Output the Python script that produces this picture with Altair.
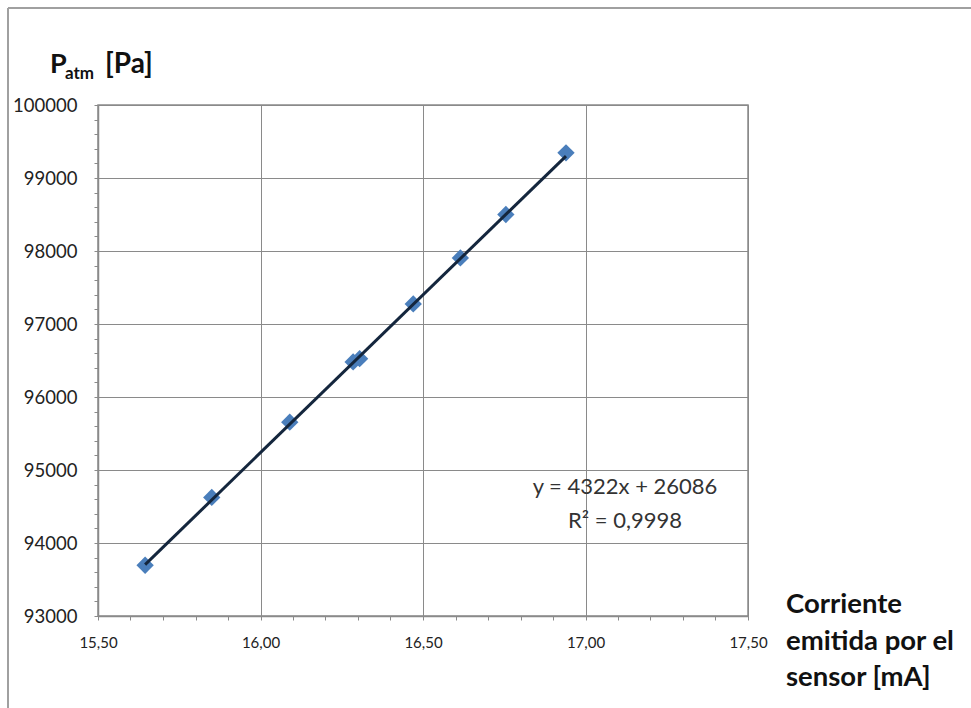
import altair as alt
import pandas as pd

# Measured sensor current [mA] and atmospheric pressure [Pa]
current_ma = [15.645, 15.85, 16.09, 16.285, 16.305, 16.47, 16.615, 16.755, 16.94]
pressure_pa = [93695, 94625, 95655, 96480, 96525, 97275, 97905, 98500, 99345]

# Linear fit reported on the chart
fit_slope = 4322
fit_intercept = 26086
fit_r2 = "0,9998"

# Axis tick positions (minor + major)
x_ticks = [15.5, 15.6, 15.7, 15.8, 15.9, 16.0, 16.1, 16.2, 16.3, 16.4, 16.5,
           16.6, 16.7, 16.8, 16.9, 17.0, 17.1, 17.2, 17.3, 17.4, 17.5]
y_ticks = [93000, 93200, 93400, 93600, 93800, 94000, 94200, 94400, 94600, 94800,
           95000, 95200, 95400, 95600, 95800, 96000, 96200, 96400, 96600, 96800,
           97000, 97200, 97400, 97600, 97800, 98000, 98200, 98400, 98600, 98800,
           99000, 99200, 99400, 99600, 99800, 100000]

FONT = "Lato"
GRID = "#8a8a8a"

points = pd.DataFrame({"I": current_ma, "P": pressure_pa})
x_lo, x_hi = min(current_ma), max(current_ma)
trend = pd.DataFrame({"I": [x_lo, x_hi],
                      "P": [fit_slope * x_lo + fit_intercept, fit_slope * x_hi + fit_intercept]})

x_major = "abs(datum.value * 2 - round(datum.value * 2)) < 0.001"
y_major = "datum.value % 1000 == 0"

x_enc = alt.X(
    "I:Q",
    scale=alt.Scale(domain=[15.5, 17.5], nice=False, zero=False),
    axis=alt.Axis(
        values=x_ticks,
        tickCount=100,
        title=None,
        labelExpr=f"{x_major} ? replace(format(datum.value, '.2f'), '.', ',') : ''",
        labelFont=FONT, labelFontSize=15, labelColor="#222222",
        labelPadding=15, labelFlush=False, labelOverlap=False,
        domainColor=GRID, domainWidth=1.5,
        tickColor=GRID,
        tickSize=4,
        gridColor=GRID,
        gridOpacity={"condition": {"test": x_major, "value": 1}, "value": 0},
    ),
)
y_enc = alt.Y(
    "P:Q",
    scale=alt.Scale(domain=[93000, 100000], nice=False, zero=False),
    axis=alt.Axis(
        values=y_ticks,
        tickCount=100,
        title=None,
        labelExpr=f"{y_major} ? format(datum.value, 'd') : ''",
        labelFont=FONT, labelFontSize=18.5, labelColor="#222222",
        labelPadding=17, labelFlush=False, labelOverlap=False,
        domainColor=GRID, domainWidth=1.5,
        tickColor=GRID,
        tickSize=4,
        gridColor=GRID,
        gridOpacity={"condition": {"test": y_major, "value": 1}, "value": 0},
    ),
)

markers = alt.Chart(points).mark_point(
    shape="diamond", filled=True, size=300, color="#4a7ebb", opacity=1
).encode(x=x_enc, y=y_enc)

fit_line = alt.Chart(trend).mark_line(color="#14263d", strokeWidth=3).encode(
    x="I:Q", y="P:Q"
)

equation = alt.Chart(pd.DataFrame({"t": [f"y = {fit_slope}x + {fit_intercept}"]})).mark_text(
    font=FONT, fontSize=22, color="#333333", align="center", baseline="alphabetic"
).encode(text="t:N", x=alt.value(527), y=alt.value(389))

r2_text = alt.Chart(pd.DataFrame({"t": [f"R² = {fit_r2}"]})).mark_text(
    font=FONT, fontSize=22, color="#333333", align="center", baseline="alphabetic"
).encode(text="t:N", x=alt.value(527), y=alt.value(423))

# Y axis title: P with "atm" subscript
title_p = alt.Chart(pd.DataFrame({"t": ["P"]})).mark_text(
    font=FONT, fontSize=27, fontWeight="bold", color="#111111", align="left", baseline="alphabetic"
).encode(text="t:N", x=alt.value(-48), y=alt.value(-32))
title_sub = alt.Chart(pd.DataFrame({"t": ["atm"]})).mark_text(
    font=FONT, fontSize=17, fontWeight="bold", color="#111111", align="left", baseline="alphabetic"
).encode(text="t:N", x=alt.value(-33), y=alt.value(-26))
title_unit = alt.Chart(pd.DataFrame({"t": ["[Pa]"]})).mark_text(
    font=FONT, fontSize=28, fontWeight="bold", color="#111111", align="left", baseline="alphabetic"
).encode(text="t:N", x=alt.value(7), y=alt.value(-32))

# X axis title, three lines to the right of the plot
x_title = alt.Chart(pd.DataFrame({"t": ["x"]})).mark_text(
    font=FONT, fontSize=27.5, fontWeight="bold", color="#111111", align="left",
    baseline="alphabetic", lineHeight=36.5,
).encode(text=alt.value(["Corriente", "emitida por el", "sensor [mA]"]),
         x=alt.value(688), y=alt.value(508))

# Outer frame (top and left edges)
frame_top = alt.Chart(pd.DataFrame({"a": [0]})).mark_rule(color="#a0a0a0", strokeWidth=2).encode(
    x=alt.value(-90), x2=alt.value(880), y=alt.value(-97)
)
frame_left = alt.Chart(pd.DataFrame({"a": [0]})).mark_rule(color="#a0a0a0", strokeWidth=2).encode(
    x=alt.value(-90), y=alt.value(-97), y2=alt.value(610)
)

chart = alt.layer(
    frame_top, frame_left, markers, fit_line, equation, r2_text,
    title_p, title_sub, title_unit, x_title,
).properties(
    width=650, height=511,
    autosize=alt.AutoSizeParams(type="none"),
    padding={"left": 98, "top": 105, "right": 223, "bottom": 92},
    background="white",
).configure_view(stroke=GRID, strokeWidth=1.5)

chart.save("out.html", embed_options={"renderer": "svg", "actions": False})
